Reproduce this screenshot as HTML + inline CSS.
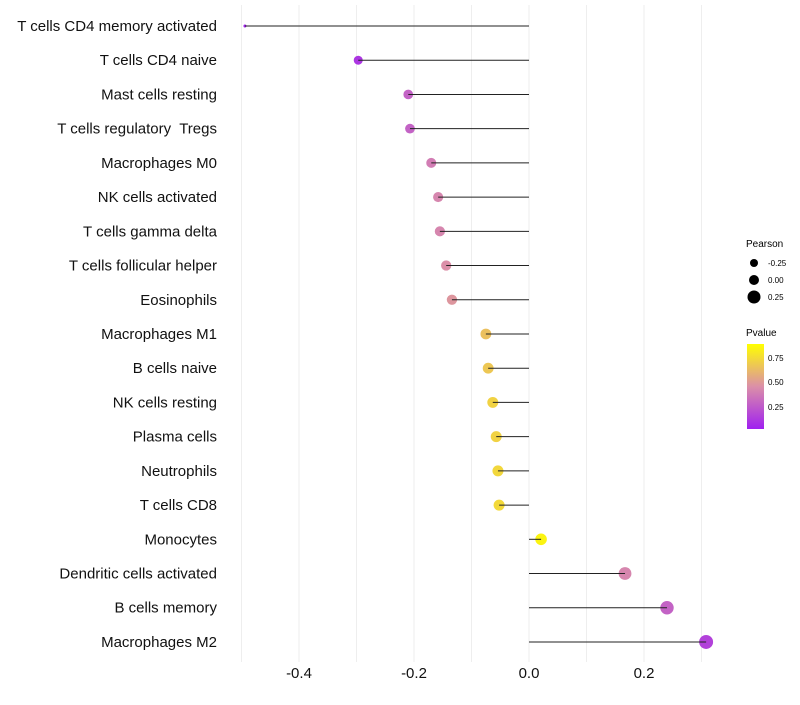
<!DOCTYPE html>
<html><head><meta charset="utf-8"><style>
body{margin:0;background:#fff;font-family:"Liberation Sans",sans-serif}
</style></head><body>
<svg id="chart" width="800" height="700" xmlns="http://www.w3.org/2000/svg" font-family="Liberation Sans, sans-serif">
<defs><linearGradient id="pg" x1="0" y1="1" x2="0" y2="0">
<stop offset="0" stop-color="#A020F0"/><stop offset="0.5" stop-color="#DB8FA8"/><stop offset="1" stop-color="#FFFF00"/></linearGradient></defs>
<g id="grid"></g><g id="marks"></g><g id="labels"></g><g id="xticks"></g>
<g>
<text x="746" y="247" font-size="10">Pearson</text>
<circle cx="754" cy="263" r="4"/><text x="768" y="266" font-size="8">-0.25</text>
<circle cx="754" cy="280" r="5"/><text x="768" y="283" font-size="8">0.00</text>
<circle cx="754" cy="297" r="6.5"/><text x="768" y="300" font-size="8">0.25</text>
<text x="746" y="336" font-size="10">Pvalue</text>
<rect x="747" y="344" width="17" height="85" fill="url(#pg)"/>
<text x="768" y="361" font-size="8">0.75</text>
<text x="768" y="385" font-size="8">0.50</text>
<text x="768" y="410" font-size="8">0.25</text>
</g>
</svg>
<script>
const categories=["T cells CD4 memory activated","T cells CD4 naive","Mast cells resting","T cells regulatory  Tregs","Macrophages M0","NK cells activated","T cells gamma delta","T cells follicular helper","Eosinophils","Macrophages M1","B cells naive","NK cells resting","Plasma cells","Neutrophils","T cells CD8","Monocytes","Dendritic cells activated","B cells memory","Macrophages M2"];
const pearson=[-0.494,-0.297,-0.210,-0.207,-0.170,-0.158,-0.155,-0.144,-0.134,-0.075,-0.071,-0.063,-0.057,-0.054,-0.052,0.021,0.167,0.240,0.308];
const pvalue=[0.01,0.1,0.3,0.3,0.42,0.46,0.46,0.5,0.53,0.72,0.75,0.8,0.8,0.82,0.83,0.95,0.46,0.3,0.15];
const tickValues=[-0.4,-0.2,0.0,0.2];
const tickLabels=["-0.4","-0.2","0.0","0.2"];
const gridValues=[-0.5,-0.4,-0.3,-0.2,-0.1,0,0.1,0.2,0.3];
const NS="http://www.w3.org/2000/svg";
const x=v=>529+v*575;
const y=i=>26+i*34.22;
const r=v=>v< -0.297?Math.max(1.5,1.5+(v+0.494)/0.197*3):4.5+(v+0.297)*4.1;
function lerp(a,b,t){return a.map((c,k)=>Math.round(c+(b[k]-c)*t));}
function col(p){const A=[160,32,240],B=[219,143,168],C=[255,255,0];
 const c=p<0.5?lerp(A,B,p/0.5):lerp(B,C,(p-0.5)/0.5);return `rgb(${c.join(',')})`;}
function mk(t,a,parent){const e=document.createElementNS(NS,t);for(const k in a)e.setAttribute(k,a[k]);document.getElementById(parent).appendChild(e);return e;}
gridValues.forEach(v=>{const l=mk('line',{x1:x(v),x2:x(v),y1:5,y2:662,stroke:'#eeeeee','stroke-width':1},'grid');

});
categories.forEach((c,i)=>{
 const d=mk('circle',{cx:x(pearson[i]),cy:y(i),r:r(pearson[i]),fill:col(pvalue[i])},'marks');
 
 
 const s=mk('line',{x1:x(0),x2:x(pearson[i]),y1:y(i),y2:y(i),stroke:'#222','stroke-width':1},'marks');
 
 
 const t=mk('text',{x:217,y:y(i)+5,'text-anchor':'end','font-size':15,fill:'#111',style:'white-space:pre'},'labels');
 t.textContent=c;
 
 
});
tickValues.forEach((v,i)=>{const t=mk('text',{x:x(v),y:678,'text-anchor':'middle','font-size':15,fill:'#111'},'xticks');
t.textContent=tickLabels[i];

});
</script>
</body></html>
